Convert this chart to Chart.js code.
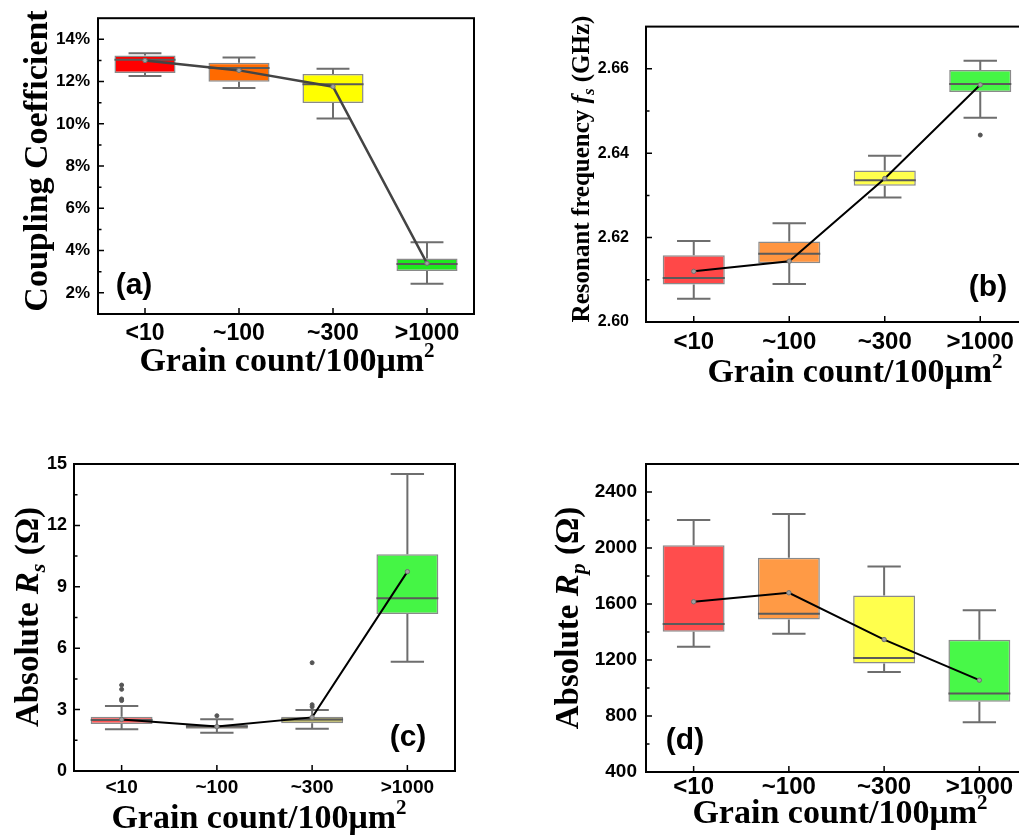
<!DOCTYPE html>
<html>
<head>
<meta charset="utf-8">
<script src="https://cdn.jsdelivr.net/npm/chart.js@4.4.1/dist/chart.umd.min.js"></script>
<style>
html, body { margin: 0; padding: 0; background: #fff; overflow: hidden; width: 1019px; height: 838px; }
canvas { position: absolute; }
</style>
</head>
<body>
<canvas id="chartA" width="510" height="400" style="left:0;top:0"></canvas>
<canvas id="chartB" width="540" height="400" style="left:510px;top:0"></canvas>
<canvas id="chartC" width="500" height="418" style="left:0;top:420px"></canvas>
<canvas id="chartD" width="540" height="418" style="left:500px;top:420px"></canvas>
<script>
// categories
const grainLabels = ['<10', '~100', '~300', '>1000'];

// (a) coupling coefficient (%)
const couplingMin = [12.27, 11.70, 10.25, 2.43];
const couplingQ1 = [12.41, 11.99, 10.99, 3.04];
const couplingMedian = [13.03, 12.64, 11.87, 3.37];
const couplingQ3 = [13.23, 12.89, 12.36, 3.63];
const couplingMax = [13.34, 13.14, 12.61, 4.40];
const couplingMean = [13.00, 12.53, 11.76, 3.40];
const couplingTicks = [2, 4, 6, 8, 10, 12, 14];

// (b) resonant frequency fs (GHz)
const freqMin = [2.6055, 2.6090, 2.6295, 2.6484];
const freqQ1 = [2.6089, 2.6139, 2.6323, 2.6545];
const freqMedian = [2.6104, 2.6162, 2.6336, 2.6564];
const freqQ3 = [2.6158, 2.6191, 2.6359, 2.6597];
const freqMax = [2.6192, 2.6234, 2.6394, 2.6619];
const freqMean = [2.6120, 2.6144, 2.6340, 2.6562];
const freqOutliers = [{ x: '>1000', y: 2.6443 }];
const freqTicks = [2.60, 2.62, 2.64, 2.66];

// (c) absolute Rs (ohm)
const rsMin = [2.04, 1.87, 2.07, 5.34];
const rsQ1 = [2.30, 2.07, 2.33, 7.67];
const rsMedian = [2.49, 2.17, 2.52, 8.44];
const rsQ3 = [2.65, 2.25, 2.65, 10.59];
const rsMax = [3.18, 2.53, 2.98, 14.51];
const rsMean = [2.52, 2.17, 2.62, 9.74];
const rsOutliers = [
    { x: '<10', y: 4.20 }, { x: '<10', y: 3.99 }, { x: '<10', y: 3.52 }, { x: '<10', y: 3.44 },
    { x: '~100', y: 2.70 },
    { x: '~300', y: 5.29 }, { x: '~300', y: 3.24 }, { x: '~300', y: 3.14 }
];
const rsTicks = [0, 3, 6, 9, 12, 15];

// (d) absolute Rp (ohm)
const rpMin = [1294, 1387, 1115, 755];
const rpQ1 = [1401, 1489, 1175, 901];
const rpMedian = [1458, 1530, 1215, 960];
const rpQ3 = [2019, 1930, 1661, 1344];
const rpMax = [2200, 2243, 1868, 1556];
const rpMean = [1616, 1680, 1346, 1056];
const rpTicks = [400, 800, 1200, 1600, 2000, 2400];

const SERIF = '"Liberation Serif", "Times New Roman", serif';
const SANS = '"Liberation Sans", Arial, sans-serif';

// whiskers, caps and median lines, placed with the chart's own scales
const boxPlotPlugin = {
    id: 'boxPlot',
    afterDatasetDraw(chart, args, opts) {
        if (args.meta.type !== 'bar') return;
        const { ctx, scales: { x, y } } = chart;
        const catW = x.getPixelForValue(1) - x.getPixelForValue(0);
        const boxW = catW * 0.65;
        const capW = catW * 0.35;
        ctx.save();
        ctx.lineWidth = 2;
        opts.min.forEach((v, i) => {
            const cx = x.getPixelForValue(i);
            const yMin = y.getPixelForValue(v);
            const yMax = y.getPixelForValue(opts.max[i]);
            const yQ1 = y.getPixelForValue(opts.q1[i]);
            const yQ3 = y.getPixelForValue(opts.q3[i]);
            const yMed = y.getPixelForValue(opts.median[i]);
            ctx.strokeStyle = '#6e6e6e';
            ctx.beginPath();
            ctx.moveTo(cx, yMin); ctx.lineTo(cx, yQ1);
            ctx.moveTo(cx, yQ3); ctx.lineTo(cx, yMax);
            ctx.moveTo(cx - capW / 2, yMin); ctx.lineTo(cx + capW / 2, yMin);
            ctx.moveTo(cx - capW / 2, yMax); ctx.lineTo(cx + capW / 2, yMax);
            ctx.stroke();
            ctx.strokeStyle = '#5a5a5a';
            ctx.beginPath();
            ctx.moveTo(cx - boxW / 2, yMed); ctx.lineTo(cx + boxW / 2, yMed);
            ctx.stroke();
        });
        ctx.restore();
    }
};

function drawSegments(ctx, segs, startX, baseY) {
    let cx = startX;
    segs.forEach(s => {
        ctx.font = s.font;
        ctx.fillText(s.text, cx, baseY + (s.dy || 0));
        cx += ctx.measureText(s.text).width;
    });
}

function segWidth(ctx, segs) {
    return segs.reduce((w, s) => { ctx.font = s.font; return w + ctx.measureText(s.text).width; }, 0);
}

// full frame, inward tick marks, axis titles and panel letter
const framePlugin = {
    id: 'frame',
    afterDraw(chart, args, opts) {
        const { ctx, chartArea: a, scales: { x, y } } = chart;
        ctx.save();
        ctx.strokeStyle = '#000';
        ctx.lineWidth = 2;
        ctx.strokeRect(a.left, a.top, a.right - a.left, a.bottom - a.top);

        ctx.lineWidth = 1.5;
        ctx.beginPath();
        y.ticks.forEach(t => {
            const py = y.getPixelForValue(t.value);
            ctx.moveTo(a.left, py); ctx.lineTo(a.left + 6, py);
        });
        const step = y.ticks[1].value - y.ticks[0].value;
        for (let k = 0; k < 40; k++) {
            const v = y.ticks[0].value - step / 2 + k * step;
            if (v >= y.max - step * 0.01) break;
            if (v <= y.min + step * 0.01) continue;
            const py = y.getPixelForValue(v);
            ctx.moveTo(a.left, py); ctx.lineTo(a.left + 3.5, py);
        }
        x.ticks.forEach((t, i) => {
            const px = x.getPixelForValue(i);
            ctx.moveTo(px, a.bottom); ctx.lineTo(px, a.bottom - 6);
        });
        ctx.stroke();

        ctx.fillStyle = '#000';
        ctx.textAlign = 'left';
        ctx.textBaseline = 'alphabetic';

        // x title
        const xw = segWidth(ctx, opts.xTitle);
        drawSegments(ctx, opts.xTitle, opts.xTitlePos[0] - xw / 2, opts.xTitlePos[1]);

        // y title, rotated
        ctx.save();
        ctx.translate(opts.yTitlePos[0], opts.yTitlePos[1]);
        ctx.rotate(-Math.PI / 2);
        const yw = segWidth(ctx, opts.yTitle);
        drawSegments(ctx, opts.yTitle, -yw / 2, 0);
        ctx.restore();

        // panel letter
        ctx.font = 'bold 30px ' + SANS;
        ctx.textAlign = 'center';
        ctx.textBaseline = 'middle';
        ctx.fillText(opts.label, opts.labelPos[0], opts.labelPos[1]);
        ctx.restore();
    }
};

function grainTitle(size) {
    return [
        { text: 'Grain count/100μm', font: `bold ${size}px ${SERIF}` },
        { text: '2', font: `bold ${Math.round(size * 0.62)}px ${SERIF}`, dy: -size * 0.42 }
    ];
}

function makeChart(id, cfg) {
    const datasets = [
        {
            type: 'line',
            data: cfg.mean,
            borderColor: cfg.lineColor,
            borderWidth: cfg.lineWidth,
            pointRadius: 2.2,
            pointBackgroundColor: '#a0a0a0',
            pointBorderColor: '#707070',
            pointBorderWidth: 1,
            tension: 0,
            order: 0
        },
        {
            type: 'bar',
            data: cfg.q1.map((v, i) => [v, cfg.q3[i]]),
            backgroundColor: cfg.colors,
            borderColor: '#8a8a8a',
            borderWidth: 1.5,
            borderSkipped: false,
            categoryPercentage: 1,
            barPercentage: 0.65,
            order: 2
        }
    ];
    if (cfg.outliers) {
        datasets.push({
            type: 'line',
            data: cfg.outliers,
            showLine: false,
            pointRadius: 2,
            pointBackgroundColor: '#555',
            pointBorderColor: '#555',
            order: 1
        });
    }
    return new Chart(document.getElementById(id), {
        type: 'bar',
        data: { labels: grainLabels, datasets },
        options: {
            responsive: false,
            animation: false,
            layout: { padding: cfg.padding },
            plugins: {
                legend: { display: false },
                tooltip: { enabled: false },
                boxPlot: { min: cfg.min, q1: cfg.q1, median: cfg.median, q3: cfg.q3, max: cfg.max },
                frame: {
                    xTitle: grainTitle(34),
                    xTitlePos: cfg.xTitlePos,
                    yTitle: cfg.yTitle,
                    yTitlePos: cfg.yTitlePos,
                    label: cfg.label,
                    labelPos: cfg.labelPos
                }
            },
            scales: {
                x: {
                    grid: { display: false, drawTicks: false },
                    border: { display: false },
                    ticks: {
                        color: '#000',
                        padding: cfg.xTickPad,
                        font: { family: SANS, weight: 'bold', size: cfg.xTickSize }
                    },
                    afterFit: s => { s.height = cfg.xAxisH; }
                },
                y: {
                    min: cfg.yMin,
                    max: cfg.yMax,
                    grid: { display: false, drawTicks: false },
                    border: { display: false },
                    afterBuildTicks: s => { s.ticks = cfg.yTicks.map(v => ({ value: v })); },
                    ticks: {
                        color: '#000',
                        padding: cfg.yTickPad,
                        font: { family: SANS, weight: 'bold', size: cfg.yTickSize },
                        callback: cfg.fmt
                    },
                    afterFit: s => { s.width = cfg.yAxisW; }
                }
            }
        },
        plugins: [boxPlotPlugin, framePlugin]
    });
}

makeChart('chartA', {
    min: couplingMin, q1: couplingQ1, median: couplingMedian, q3: couplingQ3, max: couplingMax,
    mean: couplingMean,
    colors: ['#ff0000', '#ff6a00', '#ffff00', '#1ee81e'],
    lineColor: '#444', lineWidth: 2.5,
    yMin: 1, yMax: 15, yTicks: couplingTicks, fmt: v => v + '%',
    padding: { left: 0, top: 11, right: 36, bottom: 0 }, yAxisW: 98, xAxisH: 86,
    yTickSize: 17, yTickPad: 8, xTickSize: 23, xTickPad: 6,
    yTitle: [{ text: 'Coupling Coefficient', font: `bold 34px ${SERIF}` }],
    yTitlePos: [47, 161], xTitlePos: [287, 371],
    label: '(a)', labelPos: [134, 286]
});

makeChart('chartB', {
    min: freqMin, q1: freqQ1, median: freqMedian, q3: freqQ3, max: freqMax,
    mean: freqMean, outliers: freqOutliers,
    colors: ['#ff4848', '#ff9540', '#ffff4d', '#45f545'],
    lineColor: '#000', lineWidth: 2,
    yMin: 2.60, yMax: 2.67, yTicks: freqTicks, fmt: v => v.toFixed(2),
    padding: { left: 0, top: 16, right: 22, bottom: 0 }, yAxisW: 136, xAxisH: 78,
    yTickSize: 16, yTickPad: 17, xTickSize: 24, xTickPad: 6,
    yTitle: [
        { text: 'Resonant frequency ', font: `bold 25px ${SERIF}` },
        { text: 'f', font: `italic bold 25px ${SERIF}` },
        { text: 's', font: `italic bold 17px ${SERIF}`, dy: 5 },
        { text: ' (GHz)', font: `bold 25px ${SERIF}` }
    ],
    yTitlePos: [79, 169], xTitlePos: [345, 382],
    label: '(b)', labelPos: [478, 288]
});

makeChart('chartC', {
    min: rsMin, q1: rsQ1, median: rsMedian, q3: rsQ3, max: rsMax,
    mean: rsMean, outliers: rsOutliers,
    colors: ['#ff5555', '#9c6a3c', '#b8b45c', '#45f545'],
    lineColor: '#000', lineWidth: 2,
    yMin: 0, yMax: 15, yTicks: rsTicks, fmt: v => String(v),
    padding: { left: 0, top: 44, right: 45, bottom: 0 }, yAxisW: 74, xAxisH: 67,
    yTickSize: 18, yTickPad: 7, xTickSize: 19, xTickPad: 5,
    yTitle: [
        { text: 'Absolute ', font: `bold 33px ${SERIF}` },
        { text: 'R', font: `italic bold 33px ${SERIF}` },
        { text: 's', font: `italic bold 22px ${SERIF}`, dy: 7 },
        { text: ' (Ω)', font: `bold 33px ${SERIF}` }
    ],
    yTitlePos: [38, 197], xTitlePos: [259, 408],
    label: '(c)', labelPos: [408, 318]
});

makeChart('chartD', {
    min: rpMin, q1: rpQ1, median: rpMedian, q3: rpQ3, max: rpMax,
    mean: rpMean,
    colors: ['#ff4d4d', '#ff9a45', '#ffff4d', '#48f848'],
    lineColor: '#000', lineWidth: 2,
    yMin: 400, yMax: 2600, yTicks: rpTicks, fmt: v => String(v),
    padding: { left: 0, top: 44, right: 13, bottom: 0 }, yAxisW: 146, xAxisH: 66,
    yTickSize: 19, yTickPad: 9, xTickSize: 24, xTickPad: 1,
    yTitle: [
        { text: 'Absolute ', font: `bold 33px ${SERIF}` },
        { text: 'R', font: `italic bold 33px ${SERIF}` },
        { text: 'p', font: `italic bold 22px ${SERIF}`, dy: 7 },
        { text: ' (Ω)', font: `bold 33px ${SERIF}` }
    ],
    yTitlePos: [78, 198], xTitlePos: [340, 403],
    label: '(d)', labelPos: [185, 321]
});
</script>
</body>
</html>
